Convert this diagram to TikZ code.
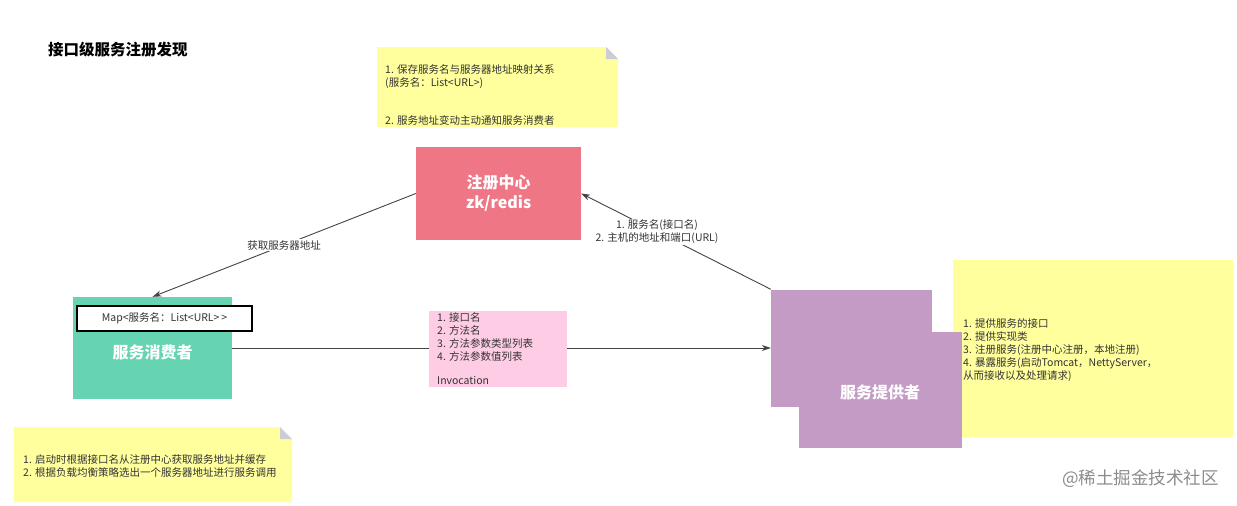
\documentclass[tikz,border=0pt]{standalone}
\usepackage{fontspec}
\setmainfont{Noto Sans CJK SC}
\usetikzlibrary{arrows.meta}
\definecolor{regc}{HTML}{EE7685}
\definecolor{conc}{HTML}{66D3B3}
\definecolor{proc}{HTML}{C39BC4}
\definecolor{notey}{HTML}{FFFF9E}
\definecolor{notep}{HTML}{FFCCE6}
\definecolor{foldc}{HTML}{CCCCD6}
\definecolor{txt}{HTML}{333333}
\definecolor{linec}{HTML}{444444}
\tikzset{
  box/.style={rectangle, inner sep=0pt, text=white, font=\fontsize{16}{20}\selectfont\bfseries, align=center},
  notetext/.style={anchor=north west, inner sep=0pt, align=left, text=txt, font=\fontsize{10.5}{13}\selectfont},
  conn/.style={draw=linec, line width=0.9pt, -{Stealth[length=9pt,width=6pt]}},
  clabel/.style={fill=white, inner sep=1.5pt, text=txt, font=\fontsize{10.5}{12.5}\selectfont, align=center},
}
\begin{document}
\begin{tikzpicture}[x=1pt,y=-1pt]
\useasboundingbox (0,0) rectangle (1237,506);
\fill[white] (0,0) rectangle (1237,506);

% title
\node[anchor=west, inner sep=0pt, font=\fontsize{15.5}{18}\selectfont\bfseries, text=black] (title) at (48,50) {接口级服务注册发现};

% top note
\fill[notey] (377,47) -- (606,47) -- (618,59) -- (618,127) -- (377,127) -- cycle;
\fill[foldc] (606,47) -- (606,59) -- (618,59) -- cycle;
\node[notetext] (n1a) at (385,64) {1. 保存服务名与服务器地址映射关系\\(服务名：List<URL>)};
\node[notetext] (n1b) at (385,115) {2. 服务地址变动主动通知服务消费者};

% registry
\node[box, fill=regc, minimum width=165pt, minimum height=93pt] (reg) at (498.5,193.5) {注册中心\\zk/redis};

% consumer
\node[box, fill=conc, minimum width=159pt, minimum height=102pt] (cons) at (152.5,348) {};
\node[box] (consl) at (152.5,352) {服务消费者};
\node[rectangle, draw=black, line width=1.4pt, fill=white, minimum width=175pt, minimum height=25pt, inner sep=0pt, text=txt, font=\fontsize{10.5}{12}\selectfont] (map) at (164.5,318.5) {Map<服务名：List<URL>\,>};

% providers
\node[box, fill=proc, minimum width=161pt, minimum height=117pt] (prov1) at (851.5,348) {};

% right note
\fill[notey] (953,260) rectangle (1233,437);
\node[notetext] (n3) at (963,318) {1. 提供服务的接口\\2. 提供实现类\\3. 注册服务(注册中心注册，本地注册)\\4. 暴露服务(启动Tomcat，NettyServer，\\从而接收以及处理请求)};

\node[box, fill=proc, minimum width=163pt, minimum height=116pt] (prov2) at (880.5,389.5) {};
\node[box] (provl) at (880,392) {服务提供者};

% connectors
\draw[conn] (reg.west) -- node[clabel, pos=0.5] {获取服务器地址} (cons.north);
\draw[conn] (prov1.north west) -- node[clabel, pos=0.6] {1. 服务名(接口名)\\2. 主机的地址和端口(URL)} (reg.east);
\draw[conn] (cons.east) -- (prov1.west);

% invocation note
\fill[notep] (429,311) rectangle (567,387);
\node[notetext] (n2a) at (437,312) {1. 接口名\\2. 方法名\\3. 方法参数类型列表\\4. 方法参数值列表};
\node[notetext] (n2b) at (437,376) {Invocation};

% bottom-left note
\fill[notey] (14,427) -- (280,427) -- (292,439) -- (292,502) -- (14,502) -- cycle;
\fill[foldc] (280,427) -- (280,439) -- (292,439) -- cycle;
\node[notetext] (n4) at (23,454) {1. 启动时根据接口名从注册中心获取服务地址并缓存\\2. 根据负载均衡策略选出一个服务器地址进行服务调用};

% watermark
\node[anchor=west, inner sep=0pt, text=black!45, font=\fontsize{17.5}{20}\selectfont] (wm) at (1062,479) {@稀土掘金技术社区};
\end{tikzpicture}
\end{document}
